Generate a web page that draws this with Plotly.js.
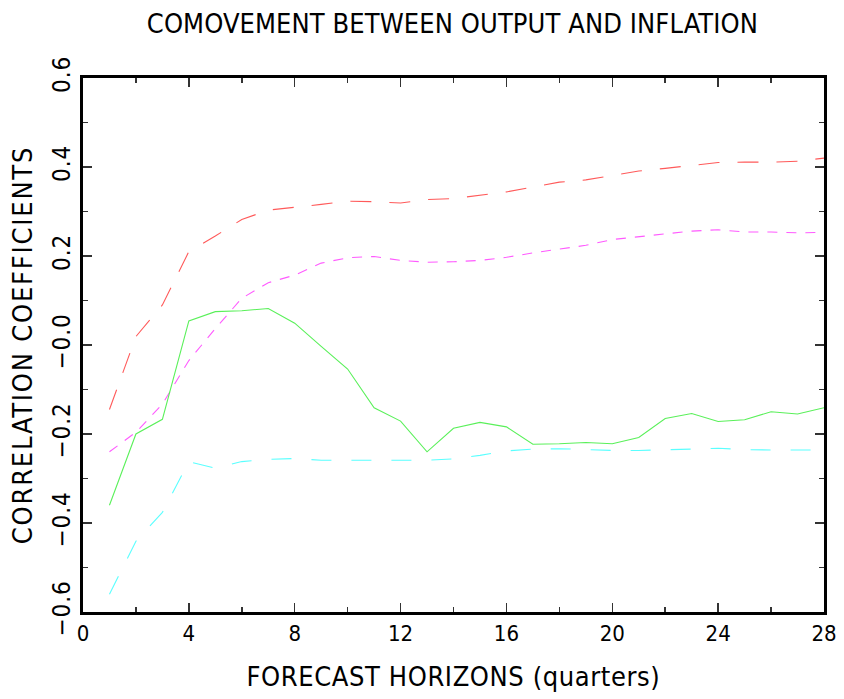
<!DOCTYPE html>
<html>
<head>
<meta charset="utf-8">
<script src="https://cdn.plot.ly/plotly-3.0.1.min.js"></script>
<style>
html,body{margin:0;padding:0;background:#fff;}
#chart{width:844px;height:699px;}
#chart .gtitle{letter-spacing:0.1px;}
#chart .xtitle{letter-spacing:0.6px;}
#chart .ytitle{letter-spacing:1.8px;}
#chart .ytick text{letter-spacing:1px;}
</style>
</head>
<body>
<div id="chart"></div>
<script>
const horizons = [1,2,3,4,5,6,7,8,9,10,11,12,13,14,15,16,17,18,19,20,21,22,23,24,25,26,27,28];
const corrPoint = [-0.36,-0.20,-0.167,0.054,0.075,0.077,0.082,0.049,-0.003,-0.054,-0.141,-0.171,-0.240,-0.187,-0.174,-0.184,-0.223,-0.222,-0.219,-0.222,-0.208,-0.165,-0.154,-0.172,-0.168,-0.150,-0.155,-0.141];
const upper95 = [-0.145,0.019,0.09,0.21,0.245,0.282,0.303,0.309,0.316,0.323,0.322,0.319,0.327,0.329,0.336,0.344,0.355,0.366,0.371,0.381,0.391,0.397,0.404,0.410,0.411,0.411,0.413,0.420];
const upper68 = [-0.24,-0.196,-0.133,-0.035,0.037,0.105,0.140,0.157,0.184,0.196,0.199,0.190,0.186,0.187,0.190,0.197,0.207,0.216,0.224,0.237,0.243,0.250,0.256,0.259,0.254,0.254,0.252,0.253];
const lower95 = [-0.56,-0.441,-0.376,-0.262,-0.277,-0.262,-0.257,-0.255,-0.259,-0.259,-0.259,-0.259,-0.259,-0.256,-0.248,-0.238,-0.234,-0.233,-0.235,-0.237,-0.237,-0.236,-0.234,-0.232,-0.235,-0.236,-0.236,-0.236];
const yTickVals = [-0.6,-0.4,-0.2,0,0.2,0.4,0.6];
const yTickText = ['\u22120.6','\u22120.4','\u22120.2','\u22120.0','0.2','0.4','0.6'];
const xTickVals = [0,4,8,12,16,20,24,28];

const FONT = '"Liberation Sans Narrow", "DejaVu Sans Condensed", "Liberation Sans", sans-serif';

const traces = [
  {x: horizons, y: upper95, mode:'lines', line:{color:'#ff5a5a', width:1.1, dash:'21px,18px'}, name:'upper'},
  {x: horizons, y: upper68, mode:'lines', line:{color:'#ff5aff', width:1.1, dash:'10px,9px'}, name:'upper2'},
  {x: horizons, y: corrPoint, mode:'lines', line:{color:'#5af05a', width:1.1}, name:'point'},
  {x: horizons, y: lower95, mode:'lines', line:{color:'#5affff', width:1.1, dash:'20px,20px'}, name:'lower'}
];

const axisCommon = {
  showgrid:false, zeroline:false, showline:true, linecolor:'#000', linewidth:3,
  mirror:'ticks', ticks:'inside', ticklen:9, tickwidth:1.5, tickcolor:'#333',
  tickfont:{family:FONT, size:22, color:'#000'}
};

const layout = {
  width:844, height:699,
  margin:{l:83, r:20, t:78, b:87},
  paper_bgcolor:'#fff', plot_bgcolor:'#fff',
  showlegend:false,
  title:{text:'COMOVEMENT BETWEEN OUTPUT AND INFLATION', font:{family:FONT, size:27, color:'#000'}, x:0.536, xanchor:'center', y:0.966, yanchor:'middle', yref:'container'},
  xaxis: Object.assign({}, axisCommon, {
    range:[0,28], tickvals:xTickVals, ticktext:xTickVals.map(String),
    minor:{dtick:2, tick0:0, ticks:'inside', ticklen:5, tickwidth:1.5, tickcolor:'#333'},
    title:{text:'FORECAST HORIZONS (quarters)', font:{family:FONT, size:27, color:'#000'}, standoff:22}
  }),
  yaxis: Object.assign({}, axisCommon, {
    range:[-0.6,0.6], tickvals:yTickVals, ticktext:yTickText, tickangle:-90,
    tickfont:{family:FONT, size:24, color:'#000'},
    minor:{dtick:0.1, tick0:0, ticks:'inside', ticklen:5, tickwidth:1.5, tickcolor:'#333'},
    title:{text:'CORRELATION COEFFICIENTS', font:{family:FONT, size:27, color:'#000'}, standoff:8}
  })
};

Plotly.newPlot('chart', traces, layout, {displayModeBar:false, staticPlot:true});
</script>
</body>
</html>
